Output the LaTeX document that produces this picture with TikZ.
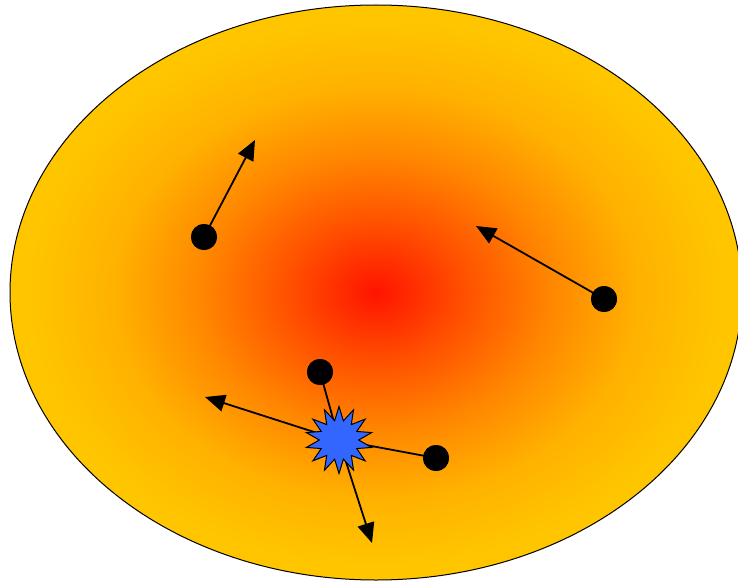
\documentclass[tikz,border=0pt]{standalone}
\usetikzlibrary{shapes.geometric,arrows.meta}
\definecolor{cRed}{RGB}{255,20,0}
\definecolor{cOrR}{RGB}{255,80,0}
\definecolor{cOr}{RGB}{255,135,0}
\definecolor{cGold}{RGB}{255,178,0}
\definecolor{cEdge}{RGB}{255,198,0}
\definecolor{cBlue}{RGB}{51,102,255}
\pgfdeclareradialshading{glow}{\pgfpoint{0bp}{0bp}}{%
  color(0bp)=(cRed); color(6bp)=(cOrR); color(12bp)=(cOr); color(18bp)=(cGold); color(24bp)=(cEdge); color(50bp)=(cEdge)}
\tikzset{
  dot/.style={circle,fill=black,minimum size=26pt,inner sep=0pt},
  conn/.style={line width=1.8pt,draw=black},
  arr/.style={conn,-{Triangle[length=20pt,width=17pt]}},
  burst/.style={star,star points=14,star point ratio=1.7,minimum size=67pt,inner sep=0pt,fill=cBlue,draw=black,line width=1pt}
}
\begin{document}
\begin{tikzpicture}[x=1pt,y=-1pt]
\useasboundingbox (0,0) rectangle (738,583);
\begin{scope}
\clip (0,0) rectangle (738,583);
\path[shading=glow,draw=black,line width=1pt] (376,292.5) ellipse [x radius=366, y radius=287.5];
\end{scope}
\node[dot] (d1) at (204,237) {};
\node[dot] (d2) at (604,299) {};
\node[dot] (d3) at (320,372) {};
\node[dot] (d4) at (436,458) {};
\coordinate (t1) at (255,140);
\coordinate (t2) at (476,226);
\coordinate (t3) at (205,397);
\coordinate (t4) at (372,543);
\coordinate (sc) at (339,440);
\draw[arr] (d1.center) -- (t1);
\draw[arr] (d2.center) -- (t2);
\draw[conn] (d3.center) -- (sc);
\draw[conn] (d4.center) -- (sc);
\draw[arr] (sc) -- (t3);
\draw[arr] (sc) -- (t4);
\node[burst] (s) at (sc) {};
\node[dot] at (d1) {};
\node[dot] at (d2) {};
\node[dot] at (d3) {};
\node[dot] at (d4) {};
\end{tikzpicture}
\end{document}
